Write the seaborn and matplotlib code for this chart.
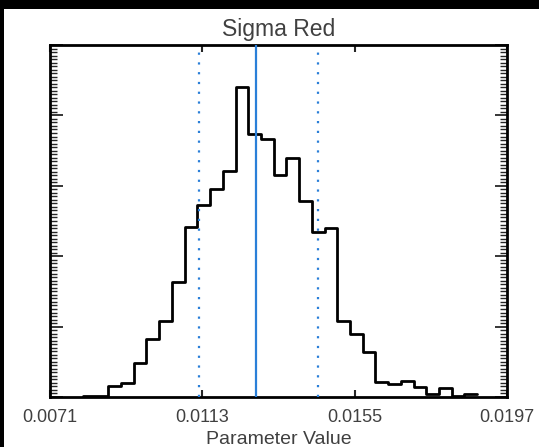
import numpy as np
import pandas as pd
import matplotlib
matplotlib.use("Agg")
import matplotlib.pyplot as plt
from matplotlib.patches import Rectangle
from matplotlib.ticker import MultipleLocator, FixedLocator
import seaborn as sns

# Posterior samples of sigma (red band), binned
bin_start = 0.008007
bin_width = 0.0003507
bin_counts = [1, 2, 15, 20, 48, 82, 108, 163, 241, 273, 295, 321, 440, 374, 366,
              316, 340, 278, 234, 240, 108, 89, 64, 22, 19, 23, 14, 4, 13, 2, 4]

# Summary statistics: median and 1-sigma bounds
median_value = 0.01278
lower_bound = 0.01122
upper_bound = 0.01450

x_ticks = [0.0071, 0.0113, 0.0155, 0.0197]
x_tick_labels = ["0.0071", "0.0113", "0.0155", "0.0197"]
title_text = "Sigma Red"
x_label = "Parameter Value"

sns.set_style("ticks")
plt.rcParams["font.family"] = ["Liberation Sans", "DejaVu Sans"]

n_bins = len(bin_counts)
bin_stop = bin_start + bin_width * n_bins
centers = bin_start + bin_width * (np.arange(n_bins) + 0.5)
hist_df = pd.DataFrame({"value": centers, "count": bin_counts})

W, H = 539, 447
fig = plt.figure(figsize=(W / 100, H / 100), dpi=100)
fig.patch.set_facecolor("black")
fig.add_artist(Rectangle((4 / W, 0), 1 - 4 / W, (H - 9) / H,
                         transform=fig.transFigure, facecolor="white",
                         edgecolor="none", zorder=-10))

ax = fig.add_axes([50 / W, (H - 397) / H, (507 - 50) / W, (397 - 45) / H])
ax.set_facecolor("white")

sns.histplot(data=hist_df, x="value", weights="count", bins=n_bins,
             binrange=(bin_start, bin_stop), element="step", fill=False,
             color="black", linewidth=2.0, ax=ax)

blue = "#2a7fd8"
ax.axvline(median_value, color=blue, linewidth=1.6, zorder=3)
for b in (lower_bound, upper_bound):
    ax.axvline(b, color=blue, linewidth=1.6, linestyle=(0, (1, 3.4)), zorder=3)

ax.set_xlim(x_ticks[0], x_ticks[-1])
ax.set_ylim(0, 500)

ax.xaxis.set_major_locator(FixedLocator(x_ticks))
ax.set_xticklabels(x_tick_labels)
ax.yaxis.set_major_locator(MultipleLocator(100))
ax.yaxis.set_minor_locator(MultipleLocator(5))
ax.set_yticklabels([])

text_color = "#404040"
ax.tick_params(axis="x", which="major", direction="in", length=5, width=1.5,
               top=True, bottom=True, labelsize=13, labelcolor=text_color, pad=8.5)
ax.tick_params(axis="y", which="major", direction="in", length=9, width=1.3,
               left=True, right=True)
ax.tick_params(axis="y", which="minor", direction="in", length=5, width=1.0,
               left=True, right=True)

for s in ax.spines.values():
    s.set_visible(True)
    s.set_linewidth(2.0)
    s.set_color("black")

ax.set_ylabel("")
ax.set_xlabel(x_label, fontsize=14, color=text_color, labelpad=3.5)
ax.set_title(title_text, fontsize=16.5, color=text_color, pad=6.5)

fig.savefig("out.png", dpi=100, facecolor=fig.get_facecolor())
